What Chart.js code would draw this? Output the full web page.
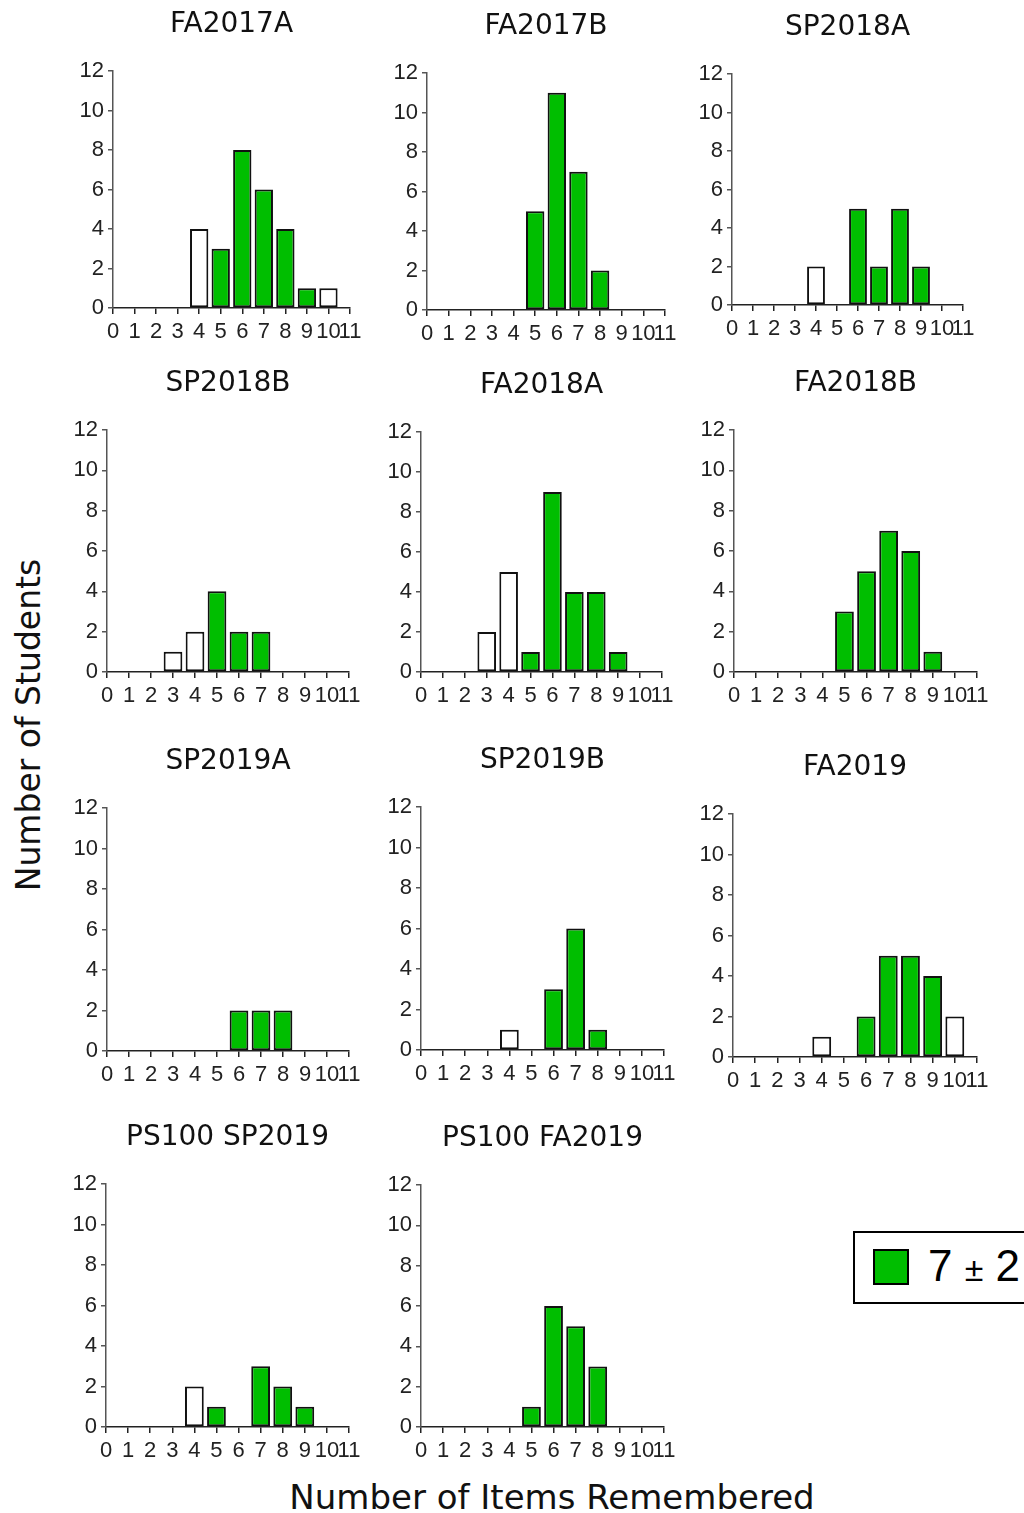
<!DOCTYPE html>
<html>
<head>
<meta charset="utf-8">
<script src="https://cdn.jsdelivr.net/npm/chart.js@4"></script>
<style>
body { margin: 0; background: #fff; width: 1024px; height: 1513px; position: relative; overflow: hidden; font-family: "DejaVu Sans", sans-serif; }
canvas { position: absolute; }
#ylab { position: absolute; left: 28px; top: 725px; transform: translate(-50%, -50%) rotate(-90deg); font-size: 33px; white-space: nowrap; color: #111; }
#xlab { position: absolute; left: 552px; top: 1497px; transform: translate(-50%, -50%); font-size: 34px; white-space: nowrap; color: #111; }
#legend { position: absolute; left: 853px; top: 1231px; width: 200px; height: 69px; border: 2px solid #000; font-family: "Liberation Sans", Arial, sans-serif; }
#legend .sw { position: absolute; left: 18px; top: 16px; width: 32px; height: 32px; background: #00be00; border: 2px solid #000; }
#legend .txt { position: absolute; left: 73px; top: 8px; font-size: 44px; line-height: 50px; color: #000; white-space: nowrap; }
#legend .pm { font-size: 34px; }
</style>
</head>
<body>
<div id="ylab">Number of Students</div>
<div id="xlab">Number of Items Remembered</div>
<div id="legend"><span class="sw"></span><span class="txt">7 <span class="pm">±</span> 2</span></div>
<script>
// bins 0..11, counts per bin
const items = [0, 1, 2, 3, 4, 5, 6, 7, 8, 9, 10, 11];
const yTicks = [0, 2, 4, 6, 8, 10, 12];

const groups = ["FA2017A", "FA2017B", "SP2018A", "SP2018B", "FA2018A", "FA2018B",
                "SP2019A", "SP2019B", "FA2019", "PS100 SP2019", "PS100 FA2019"];

const fa2017a    = [0, 0, 0, 0, 4, 3, 8, 6, 4, 1, 1, 0];
const fa2017b    = [0, 0, 0, 0, 0, 5, 11, 7, 2, 0, 0, 0];
const sp2018a    = [0, 0, 0, 0, 2, 0, 5, 2, 5, 2, 0, 0];
const sp2018b    = [0, 0, 0, 1, 2, 4, 2, 2, 0, 0, 0, 0];
const fa2018a    = [0, 0, 0, 2, 5, 1, 9, 4, 4, 1, 0, 0];
const fa2018b    = [0, 0, 0, 0, 0, 3, 5, 7, 6, 1, 0, 0];
const sp2019a    = [0, 0, 0, 0, 0, 0, 2, 2, 2, 0, 0, 0];
const sp2019b    = [0, 0, 0, 0, 1, 0, 3, 6, 1, 0, 0, 0];
const fa2019     = [0, 0, 0, 0, 1, 0, 2, 5, 5, 4, 2, 0];
const ps100sp19  = [0, 0, 0, 0, 2, 1, 0, 3, 2, 1, 0, 0];
const ps100fa19  = [0, 0, 0, 0, 0, 1, 6, 5, 3, 0, 0, 0];

const counts = [fa2017a, fa2017b, sp2018a, sp2018b, fa2018a, fa2018b,
                sp2019a, sp2019b, fa2019, ps100sp19, ps100fa19];

// 7 plus/minus 2
const spanLo = 5;
const spanHi = 9;

// plot area of each panel: left, top, width, height
const boxes = [
    [113, 71, 237, 237], [427, 73, 238, 237], [732, 74, 231, 231],
    [107, 430, 242, 242], [421, 432, 241, 240], [734, 430, 243, 242],
    [107, 808, 242, 243], [421, 807, 243, 243], [733, 814, 244, 243],
    [106, 1184, 243, 243], [421, 1185, 243, 242]
];

const GREEN = "#00be00";
const AXW = 50, PADR = 50, TOPH = 70, BOTH = 42;

for (let p = 0; p < groups.length; p += 1)
{
    const [L, T, W, H] = boxes[p];
    const canv = document.createElement("canvas");
    canv.width = W + AXW + PADR;
    canv.height = H + TOPH + BOTH;
    canv.style.left = (L - AXW) + "px";
    canv.style.top = (T - TOPH) + "px";
    document.body.appendChild(canv);

    const pts = [];
    const cols = [];
    for (let i = 0; i < items.length; i += 1)
    {
        if (counts[p][i] > 0)
        {
            pts.push({ x: items[i], y: counts[p][i] });
            cols.push(items[i] >= spanLo && items[i] <= spanHi ? GREEN : "#ffffff");
        }
    }

    new Chart(canv.getContext("2d"),
    {
        type: "bar",
        data:
        {
            datasets:
            [{
                label: "7 ± 2",
                data: pts,
                backgroundColor: cols,
                borderColor: "#111",
                borderWidth: 2,
                borderSkipped: false,
                barPercentage: 0.85,
                categoryPercentage: 1
            }]
        },
        options:
        {
            responsive: false,
            animation: false,
            layout: { padding: { left: 0, right: PADR, top: 0, bottom: 0 } },
            plugins:
            {
                legend: { display: false },
                tooltip: { enabled: false },
                title:
                {
                    display: true,
                    fullSize: false,
                    text: groups[p],
                    color: "#111",
                    font: { family: "DejaVu Sans", size: 28, weight: "normal", lineHeight: 1.2 },
                    padding: { top: 7, bottom: 29.4 }
                }
            },
            scales:
            {
                x:
                {
                    type: "linear",
                    min: 0,
                    max: 11,
                    offset: false,
                    afterFit: s => { s.height = BOTH; },
                    afterBuildTicks: s => { s.ticks = items.map(v => ({ value: v })); },
                    border: { display: true, color: "#222", width: 1.5 },
                    grid: { display: true, offset: false, drawOnChartArea: false, drawTicks: true, tickLength: 6, color: "#222", lineWidth: 1.5 },
                    ticks: { autoSkip: false, maxRotation: 0, minRotation: 0, padding: 5, color: "#222",
                             font: { family: "Liberation Sans", size: 22 } }
                },
                y:
                {
                    min: 0,
                    max: 12,
                    afterFit: s => { s.width = AXW; },
                    afterBuildTicks: s => { s.ticks = yTicks.map(v => ({ value: v })); },
                    border: { display: true, color: "#555", width: 1.5 },
                    grid: { display: true, drawOnChartArea: false, drawTicks: true, tickLength: 5, color: "#555", lineWidth: 1.5 },
                    ticks: { padding: 4, color: "#222", font: { family: "Liberation Sans", size: 22 } }
                }
            }
        }
    });
}
</script>
</body>
</html>
